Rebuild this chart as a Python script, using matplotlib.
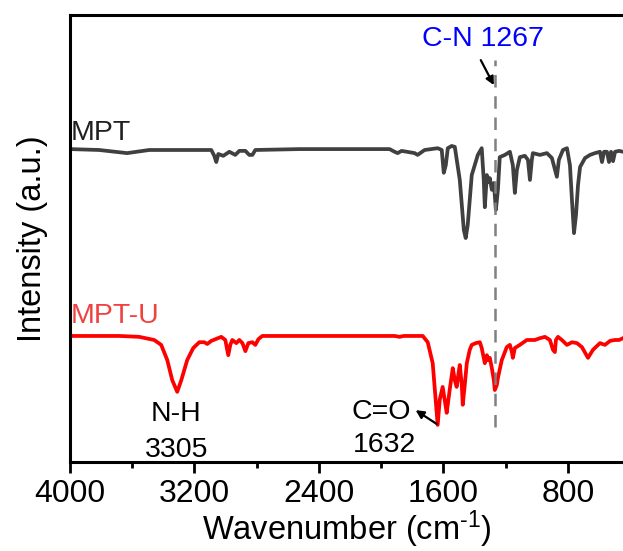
import numpy as np
import matplotlib.pyplot as plt

plt.rcParams['font.family'] = ['Liberation Sans', 'DejaVu Sans']
plt.rcParams['mathtext.fontset'] = 'custom'
plt.rcParams['mathtext.rm'] = 'Liberation Sans'
plt.rcParams['mathtext.it'] = 'Liberation Sans'

# MPT spectrum (wavenumber, intensity in a.u.)
mpt_wn = [4000, 3813, 3633, 3491, 3169, 3092, 3073, 3060, 3047, 3015, 2976, 2938, 2912,
          2873, 2848, 2828, 2809, 2525, 2204, 1946, 1914, 1894, 1869, 1785, 1766, 1721,
          1637, 1611, 1598, 1585, 1572, 1547, 1527, 1495, 1469, 1457, 1444, 1418, 1379,
          1354, 1341, 1334, 1321, 1308, 1302, 1289, 1276, 1263, 1250, 1238, 1205, 1173,
          1154, 1141, 1128, 1109, 1077, 1057, 1044, 1032, 1025, 980, 935, 903, 871, 858,
          832, 806, 787, 774, 761, 748, 735, 722, 690, 658, 626, 594, 581, 568, 549, 536,
          523, 510, 497, 471, 446]
mpt_int = [70.0, 69.8, 69.1, 69.8, 69.8, 69.8, 68.5, 67.1, 68.9, 68.5, 69.4, 68.7, 69.6,
           69.6, 68.7, 68.7, 69.8, 70.0, 70.0, 70.0, 69.4, 69.1, 69.6, 69.1, 68.7, 69.8,
           70.2, 69.8, 64.7, 66.4, 70.2, 70.7, 70.5, 63.1, 51.9, 50.1, 53.0, 64.2, 68.7,
           70.2, 63.1, 57.0, 64.2, 62.6, 63.5, 60.9, 62.4, 56.4, 60.9, 68.2, 68.7, 69.4,
           66.4, 60.2, 65.3, 68.2, 68.5, 67.6, 63.1, 67.6, 69.1, 68.7, 69.1, 68.0, 63.8,
           67.6, 69.8, 70.2, 66.4, 58.6, 51.2, 55.3, 62.0, 66.0, 68.0, 68.7, 69.1, 69.4,
           67.1, 69.4, 69.4, 67.1, 69.4, 67.3, 69.4, 69.6, 69.4]

# MPT-U spectrum
mptu_wn = [4000, 3684, 3556, 3459, 3414, 3375, 3343, 3311, 3285, 3247, 3208, 3169, 3137,
           3118, 3092, 3028, 3002, 2983, 2970, 2957, 2931, 2912, 2892, 2873, 2854, 2828,
           2809, 2789, 2764, 2525, 2204, 1914, 1882, 1856, 1733, 1701, 1669, 1650, 1637,
           1624, 1605, 1592, 1579, 1560, 1540, 1527, 1515, 1502, 1495, 1482, 1476, 1463,
           1450, 1431, 1418, 1392, 1366, 1354, 1334, 1321, 1315, 1302, 1289, 1276, 1270,
           1257, 1250, 1225, 1193, 1173, 1160, 1154, 1141, 1109, 1064, 1012, 980, 948, 916,
           896, 884, 877, 864, 839, 806, 774, 742, 710, 671, 639, 594, 562, 529, 497, 471,
           446]
mptu_int = [28.2, 28.2, 28.0, 27.3, 26.2, 22.8, 18.3, 15.7, 18.3, 22.8, 25.5, 26.8, 26.8,
            26.4, 27.1, 28.0, 27.3, 23.9, 26.2, 27.3, 26.6, 27.3, 26.6, 24.8, 26.6, 26.8,
            26.2, 27.5, 28.2, 28.2, 28.2, 28.2, 28.0, 28.2, 28.2, 26.8, 22.1, 13.9, 8.3,
            13.9, 16.8, 13.9, 11.0, 16.1, 21.0, 18.3, 16.8, 20.1, 21.7, 17.2, 12.8, 17.2,
            22.1, 25.1, 26.2, 26.6, 26.8, 25.5, 22.1, 23.9, 22.8, 23.3, 21.0, 18.3, 16.1,
            17.2, 18.8, 22.8, 25.7, 26.2, 24.6, 23.3, 25.5, 26.2, 27.3, 27.3, 27.7, 28.0,
            27.3, 25.1, 24.6, 27.3, 28.0, 27.3, 26.2, 26.8, 26.6, 25.7, 23.3, 25.1, 26.6,
            26.2, 27.1, 27.3, 27.3, 27.7]

cn_peak = 1267

fig = plt.figure(figsize=(6.23, 5.51), dpi=100)
ax = fig.add_axes([0.1124, 0.1615, 0.8876, 0.8113])

ax.plot(mpt_wn, mpt_int, color='#404040', lw=2.7, solid_joinstyle='round')
ax.plot(mptu_wn, mptu_int, color='#ff0000', lw=2.7, solid_joinstyle='round')
ax.plot([cn_peak, cn_peak], [7.8, 89.9], color='#808080', lw=1.8, ls=(0, (5, 3.5)))

ax.set_xlim(4000, 446)
ax.set_ylim(0, 100)
ax.set_xticks([4000, 3200, 2400, 1600, 800])
ax.set_xticks([3600, 2800, 2000, 1200], minor=True)
ax.set_yticks([])
ax.tick_params(axis='x', which='major', labelsize=23, length=8, width=2, direction='out', pad=4)
ax.tick_params(axis='x', which='minor', length=4.5, width=2, direction='out')
for s in ['left', 'bottom', 'top']:
    ax.spines[s].set_linewidth(2.2)
ax.spines['right'].set_visible(False)

ax.set_xlabel(r'Wavenumber (cm$^{\text{-}1}$)', fontsize=23.5, labelpad=0)
ax.set_ylabel('Intensity (a.u.)', fontsize=23.5, labelpad=16)

ax.text(3994, 72.0, 'MPT', fontsize=20.5, color='#202020', va='baseline')
ax.text(3994, 31.1, 'MPT-U', fontsize=20.5, color='#f04040', va='baseline')
ax.text(3317, 10.7, 'N-H', fontsize=20.5, ha='center', va='center')
ax.text(3317, 2.7, '3305', fontsize=20.5, ha='center', va='center')
ax.text(1997, 11.2, 'C=O', fontsize=20.5, ha='center', va='center')
ax.text(1978, 3.8, '1632', fontsize=20.5, ha='center', va='center')
ax.text(1347, 94.6, 'C-N 1267', fontsize=20.5, color='#0000ff', ha='center', va='center')

ax.annotate('', xy=(1276, 84.3), xytext=(1360, 89.9),
            arrowprops=dict(arrowstyle='-|>', color='black', lw=1.6, mutation_scale=12,
                            shrinkA=0, shrinkB=0))
ax.annotate('', xy=(1779, 11.6), xytext=(1643, 8.5),
            arrowprops=dict(arrowstyle='-|>', color='black', lw=1.6, mutation_scale=12,
                            shrinkA=0, shrinkB=0))

fig.savefig('out.png', dpi=100)
